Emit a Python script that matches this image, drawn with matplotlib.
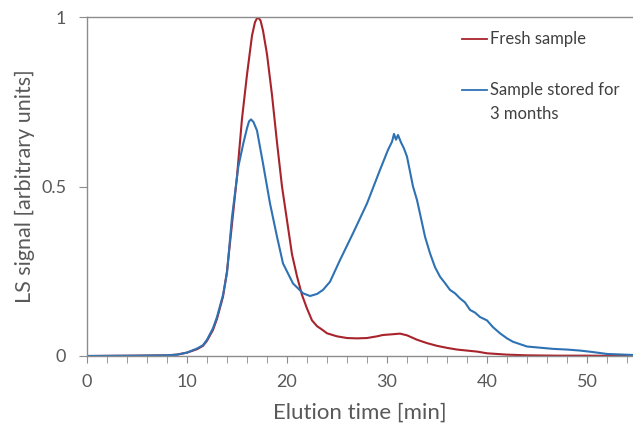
import matplotlib
matplotlib.use("Agg")
import matplotlib.pyplot as plt
from matplotlib.ticker import MultipleLocator

# ---- data ----
t_fresh = [0, 5, 8, 9, 10, 11, 11.6, 12, 12.6, 13, 13.6, 14, 14.5, 15, 15.5, 16, 16.5,
           16.8, 17.07, 17.35, 17.6, 18, 18.5, 19, 19.5, 20, 20.5, 21, 21.5, 22, 22.5, 23,
           23.5, 24, 25, 26, 27, 28, 29, 29.6, 30.5, 31.3, 32, 33, 34, 35, 36, 37, 38, 39,
           40, 42, 44, 47, 50, 54.6]
v_fresh = [0, 0.001, 0.002, 0.004, 0.01, 0.02, 0.03, 0.045, 0.077, 0.11, 0.175, 0.25, 0.39,
           0.53, 0.70, 0.83, 0.945, 0.985, 1.0, 0.99, 0.96, 0.89, 0.77, 0.63, 0.50, 0.40,
           0.30, 0.235, 0.18, 0.14, 0.105, 0.088, 0.078, 0.067, 0.058, 0.053, 0.052, 0.053,
           0.058, 0.062, 0.064, 0.066, 0.061, 0.048, 0.038, 0.030, 0.024, 0.019, 0.016,
           0.013, 0.008, 0.004, 0.002, 0.001, 0.001, 0.0]

t_stored = [0, 5, 8, 9, 10, 11, 11.6, 12, 12.6, 13, 13.6, 14, 14.5, 15.13, 15.63, 16.0,
            16.2, 16.4, 16.65, 17.0, 17.6, 18.3, 19.0, 19.6, 20.6, 21.6, 22.3, 23.0, 23.6,
            24.3, 25.3, 26.6, 28.0, 29.3, 30.1, 30.5, 30.7, 30.9, 31.1, 31.4, 31.7, 32.0,
            32.6, 33.0, 33.3, 33.8, 34.3, 34.8, 35.3, 35.8, 36.3, 36.8, 37.3, 37.8, 38.3,
            38.8, 39.3, 40.0, 40.6, 41.3, 42.0, 42.6, 44.0, 45.5, 46.6, 48.0, 49.3, 50.5,
            52.0, 54.6]
v_stored = [0, 0.001, 0.002, 0.004, 0.01, 0.022, 0.032, 0.048, 0.082, 0.115, 0.18, 0.245,
            0.41, 0.558, 0.627, 0.672, 0.692, 0.698, 0.69, 0.665, 0.568, 0.45, 0.352,
            0.273, 0.214, 0.185, 0.177, 0.183, 0.195, 0.219, 0.283, 0.362, 0.45, 0.549,
            0.608, 0.632, 0.655, 0.638, 0.652, 0.63, 0.612, 0.588, 0.50, 0.46, 0.42, 0.352,
            0.303, 0.262, 0.234, 0.215, 0.195, 0.185, 0.17, 0.158, 0.136, 0.128, 0.115,
            0.105, 0.085, 0.067, 0.052, 0.042, 0.028, 0.024, 0.021, 0.019, 0.016, 0.012,
            0.006, 0.003]

series_labels = ["Fresh sample", "Sample stored for\n3 months"]
x_ticks = [0, 10, 20, 30, 40, 50]
y_ticks = [0, 0.5, 1]
y_ticklabels = ["0", "0.5", "1"]

plt.rcParams['font.family'] = ['Lato', 'DejaVu Sans']
text_col = '#595959'
legend_col = '#404040'
axis_col = '#8c8c8c'
red = '#A8232B'
blue = '#2E72B4'

fig = plt.figure(figsize=(6.33, 4.25), dpi=100)
ax = fig.add_axes([87 / 633, 1 - 356 / 425, 1 - 87 / 633, (356 - 17) / 425])

ax.plot(t_fresh, v_fresh, color=red, lw=1.5)
ax.plot(t_stored, v_stored, color=blue, lw=1.5)

ax.set_xlim(0, 54.6)
ax.set_ylim(0, 1)
ax.set_xticks(x_ticks)
ax.xaxis.set_minor_locator(MultipleLocator(2))
ax.set_yticks(y_ticks)
ax.set_yticklabels(y_ticklabels)

ax.spines['right'].set_visible(False)
for s in ['left', 'bottom', 'top']:
    ax.spines[s].set_color(axis_col)
    ax.spines[s].set_linewidth(1.0)

ax.tick_params(axis='x', which='both', direction='out', length=5, color=axis_col,
               labelsize=13, labelcolor=text_col, pad=8)
ax.tick_params(axis='y', which='both', direction='out', length=6, color=axis_col,
               labelsize=13, labelcolor=text_col, pad=9)

ax.set_xlabel("Elution time [min]", fontsize=16, color=text_col, labelpad=9)
ax.set_ylabel("LS signal [arbitrary units]", fontsize=15.5, color=text_col, labelpad=4)

# legend drawn in axes-fraction coordinates
leg_x0, leg_x1, leg_tx = 0.687, 0.733, 0.738
leg_y = [0.935, 0.785]
for lbl, col, yy in zip(series_labels, [red, blue], leg_y):
    ax.plot([leg_x0, leg_x1], [yy, yy], color=col, lw=1.3, transform=ax.transAxes,
            clip_on=False)
    first, *rest = lbl.split("\n")
    ax.text(leg_tx, yy, first, transform=ax.transAxes, fontsize=12, color=legend_col,
            va='center', ha='left')
    for k, line in enumerate(rest, start=1):
        ax.text(leg_tx, yy - k * 24 / 339, line, transform=ax.transAxes, fontsize=12,
                color=legend_col, va='center', ha='left')

fig.savefig("out.png", dpi=100)
